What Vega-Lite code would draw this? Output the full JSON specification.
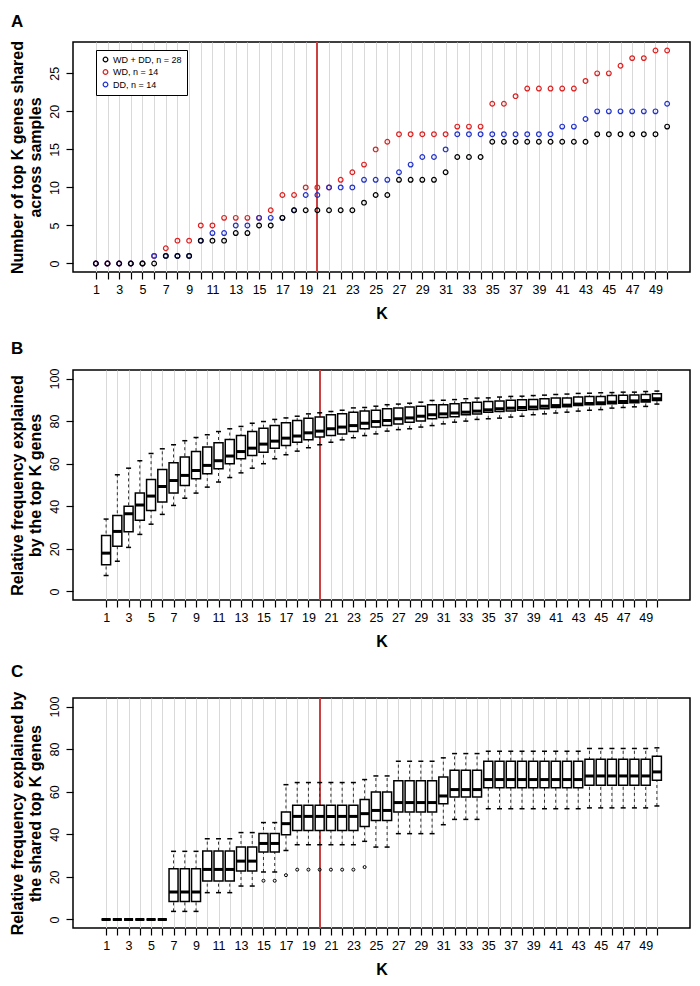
{
  "$schema": "https://vega.github.io/schema/vega-lite/v6.json",
  "background": "white",
  "padding": {"left": 8, "top": 11, "right": 5, "bottom": 5},
  "bounds": "flush",
  "spacing": 98,
  "datasets": {
    "A": [
      {"K":1,"WD":0,"DD":0,"All":0},{"K":2,"WD":0,"DD":0,"All":0},{"K":3,"WD":0,"DD":0,"All":0},{"K":4,"WD":0,"DD":0,"All":0},{"K":5,"WD":0,"DD":0,"All":0},
      {"K":6,"WD":1,"DD":1,"All":0},{"K":7,"WD":2,"DD":1,"All":1},{"K":8,"WD":3,"DD":1,"All":1},{"K":9,"WD":3,"DD":1,"All":1},{"K":10,"WD":5,"DD":3,"All":3},
      {"K":11,"WD":5,"DD":4,"All":3},{"K":12,"WD":6,"DD":4,"All":3},{"K":13,"WD":6,"DD":5,"All":4},{"K":14,"WD":6,"DD":5,"All":4},{"K":15,"WD":6,"DD":6,"All":5},
      {"K":16,"WD":7,"DD":6,"All":5},{"K":17,"WD":9,"DD":6,"All":6},{"K":18,"WD":9,"DD":7,"All":7},{"K":19,"WD":10,"DD":9,"All":7},{"K":20,"WD":10,"DD":9,"All":7},
      {"K":21,"WD":10,"DD":10,"All":7},{"K":22,"WD":11,"DD":10,"All":7},{"K":23,"WD":12,"DD":10,"All":7},{"K":24,"WD":13,"DD":11,"All":8},{"K":25,"WD":15,"DD":11,"All":9},
      {"K":26,"WD":16,"DD":11,"All":9},{"K":27,"WD":17,"DD":12,"All":11},{"K":28,"WD":17,"DD":13,"All":11},{"K":29,"WD":17,"DD":14,"All":11},{"K":30,"WD":17,"DD":14,"All":11},
      {"K":31,"WD":17,"DD":15,"All":12},{"K":32,"WD":18,"DD":17,"All":14},{"K":33,"WD":18,"DD":17,"All":14},{"K":34,"WD":18,"DD":17,"All":14},{"K":35,"WD":21,"DD":17,"All":16},
      {"K":36,"WD":21,"DD":17,"All":16},{"K":37,"WD":22,"DD":17,"All":16},{"K":38,"WD":23,"DD":17,"All":16},{"K":39,"WD":23,"DD":17,"All":16},{"K":40,"WD":23,"DD":17,"All":16},
      {"K":41,"WD":23,"DD":18,"All":16},{"K":42,"WD":23,"DD":18,"All":16},{"K":43,"WD":24,"DD":19,"All":16},{"K":44,"WD":25,"DD":20,"All":17},{"K":45,"WD":25,"DD":20,"All":17},
      {"K":46,"WD":26,"DD":20,"All":17},{"K":47,"WD":27,"DD":20,"All":17},{"K":48,"WD":27,"DD":20,"All":17},{"K":49,"WD":28,"DD":20,"All":17},{"K":50,"WD":28,"DD":21,"All":18}
    ],
    "B": [
      {"K":1,"lo":7.5,"q1":12.5,"med":18.0,"q3":26.3,"hi":34.0},
      {"K":2,"lo":14.2,"q1":21.2,"med":28.2,"q3":35.7,"hi":54.8},
      {"K":3,"lo":20.7,"q1":28.0,"med":36.5,"q3":40.0,"hi":57.9},
      {"K":4,"lo":26.8,"q1":33.4,"med":40.6,"q3":46.2,"hi":61.4},
      {"K":5,"lo":31.6,"q1":38.0,"med":44.8,"q3":52.6,"hi":64.8},
      {"K":6,"lo":36.2,"q1":42.0,"med":49.3,"q3":57.3,"hi":67.0},
      {"K":7,"lo":40.4,"q1":46.2,"med":52.1,"q3":60.4,"hi":68.9},
      {"K":8,"lo":43.8,"q1":49.8,"med":54.5,"q3":63.2,"hi":70.8},
      {"K":9,"lo":46.2,"q1":52.9,"med":56.8,"q3":65.7,"hi":72.3},
      {"K":10,"lo":49.0,"q1":55.3,"med":59.2,"q3":67.8,"hi":73.6},
      {"K":11,"lo":51.4,"q1":57.6,"med":61.4,"q3":69.8,"hi":75.1},
      {"K":12,"lo":53.5,"q1":60.0,"med":63.6,"q3":71.4,"hi":76.4},
      {"K":13,"lo":55.7,"q1":62.3,"med":65.7,"q3":73.2,"hi":77.5},
      {"K":14,"lo":57.9,"q1":63.8,"med":67.3,"q3":75.1,"hi":79.0},
      {"K":15,"lo":60.0,"q1":65.4,"med":69.2,"q3":76.7,"hi":79.8},
      {"K":16,"lo":62.3,"q1":67.3,"med":70.6,"q3":77.9,"hi":80.8},
      {"K":17,"lo":64.2,"q1":68.5,"med":72.0,"q3":79.2,"hi":81.5},
      {"K":18,"lo":65.9,"q1":70.1,"med":73.0,"q3":80.3,"hi":82.3},
      {"K":19,"lo":67.5,"q1":71.2,"med":74.5,"q3":81.4,"hi":83.4},
      {"K":20,"lo":68.9,"q1":72.5,"med":75.3,"q3":81.9,"hi":83.9},
      {"K":21,"lo":70.1,"q1":73.2,"med":76.4,"q3":83.0,"hi":84.5},
      {"K":22,"lo":71.2,"q1":74.0,"med":77.2,"q3":83.4,"hi":85.1},
      {"K":23,"lo":72.2,"q1":75.1,"med":77.9,"q3":84.2,"hi":86.2},
      {"K":24,"lo":73.2,"q1":76.4,"med":79.0,"q3":84.7,"hi":86.4},
      {"K":25,"lo":74.0,"q1":77.2,"med":79.8,"q3":85.1,"hi":87.0},
      {"K":26,"lo":75.3,"q1":77.9,"med":80.3,"q3":85.8,"hi":87.7},
      {"K":27,"lo":76.0,"q1":78.7,"med":81.1,"q3":86.1,"hi":88.0},
      {"K":28,"lo":76.4,"q1":79.5,"med":81.5,"q3":86.6,"hi":88.4},
      {"K":29,"lo":77.2,"q1":80.1,"med":82.3,"q3":87.0,"hi":88.9},
      {"K":30,"lo":77.9,"q1":81.1,"med":83.0,"q3":87.7,"hi":89.7},
      {"K":31,"lo":78.7,"q1":81.7,"med":83.4,"q3":87.7,"hi":89.8},
      {"K":32,"lo":79.5,"q1":82.0,"med":83.8,"q3":88.1,"hi":90.1},
      {"K":33,"lo":80.0,"q1":83.0,"med":84.2,"q3":88.6,"hi":90.5},
      {"K":34,"lo":80.8,"q1":83.3,"med":84.7,"q3":88.9,"hi":90.8},
      {"K":35,"lo":81.1,"q1":84.2,"med":85.3,"q3":89.2,"hi":90.9},
      {"K":36,"lo":81.4,"q1":84.5,"med":85.8,"q3":89.5,"hi":91.3},
      {"K":37,"lo":81.9,"q1":84.8,"med":86.1,"q3":89.8,"hi":91.6},
      {"K":38,"lo":82.3,"q1":85.1,"med":86.4,"q3":90.0,"hi":91.7},
      {"K":39,"lo":83.0,"q1":85.4,"med":86.6,"q3":90.1,"hi":92.0},
      {"K":40,"lo":83.4,"q1":85.8,"med":87.0,"q3":90.5,"hi":92.2},
      {"K":41,"lo":83.8,"q1":86.4,"med":87.3,"q3":90.8,"hi":92.5},
      {"K":42,"lo":84.2,"q1":86.7,"med":87.5,"q3":90.8,"hi":92.7},
      {"K":43,"lo":84.7,"q1":87.3,"med":88.0,"q3":91.3,"hi":93.0},
      {"K":44,"lo":85.1,"q1":87.7,"med":88.3,"q3":91.6,"hi":93.1},
      {"K":45,"lo":85.4,"q1":87.8,"med":88.6,"q3":91.6,"hi":93.3},
      {"K":46,"lo":86.1,"q1":88.1,"med":88.9,"q3":92.0,"hi":93.4},
      {"K":47,"lo":86.4,"q1":88.4,"med":89.2,"q3":92.2,"hi":93.6},
      {"K":48,"lo":86.7,"q1":88.6,"med":89.5,"q3":92.3,"hi":93.6},
      {"K":49,"lo":86.9,"q1":89.0,"med":89.7,"q3":92.5,"hi":93.9},
      {"K":50,"lo":88.0,"q1":89.7,"med":90.5,"q3":92.8,"hi":94.1}
    ],
    "C": [
      {"K":1,"lo":0,"q1":0,"med":0,"q3":0,"hi":0},
      {"K":2,"lo":0,"q1":0,"med":0,"q3":0,"hi":0},
      {"K":3,"lo":0,"q1":0,"med":0,"q3":0,"hi":0},
      {"K":4,"lo":0,"q1":0,"med":0,"q3":0,"hi":0},
      {"K":5,"lo":0,"q1":0,"med":0,"q3":0,"hi":0},
      {"K":6,"lo":0,"q1":0,"med":0,"q3":0,"hi":0},
      {"K":7,"lo":3.8,"q1":8.5,"med":12.9,"q3":23.8,"hi":32.0},
      {"K":8,"lo":3.8,"q1":8.5,"med":12.9,"q3":23.8,"hi":32.0},
      {"K":9,"lo":3.8,"q1":8.5,"med":12.9,"q3":23.8,"hi":32.0},
      {"K":10,"lo":12.6,"q1":18.1,"med":23.5,"q3":32.1,"hi":37.9},
      {"K":11,"lo":12.6,"q1":18.1,"med":23.5,"q3":32.1,"hi":37.9},
      {"K":12,"lo":12.6,"q1":18.1,"med":23.5,"q3":32.1,"hi":37.9},
      {"K":13,"lo":15.7,"q1":22.8,"med":27.4,"q3":34.0,"hi":40.8},
      {"K":14,"lo":15.7,"q1":22.8,"med":27.4,"q3":34.0,"hi":40.8},
      {"K":15,"lo":22.3,"q1":31.7,"med":35.7,"q3":40.4,"hi":45.5},
      {"K":16,"lo":22.3,"q1":31.7,"med":35.7,"q3":40.4,"hi":45.5},
      {"K":17,"lo":32.4,"q1":39.8,"med":45.0,"q3":50.5,"hi":63.3},
      {"K":18,"lo":35.1,"q1":41.8,"med":48.4,"q3":53.6,"hi":64.3},
      {"K":19,"lo":35.1,"q1":41.8,"med":48.4,"q3":53.6,"hi":64.3},
      {"K":20,"lo":35.1,"q1":41.8,"med":48.4,"q3":53.6,"hi":64.3},
      {"K":21,"lo":35.1,"q1":41.8,"med":48.4,"q3":53.6,"hi":64.3},
      {"K":22,"lo":35.1,"q1":41.8,"med":48.4,"q3":53.6,"hi":64.3},
      {"K":23,"lo":35.1,"q1":41.8,"med":48.4,"q3":53.6,"hi":64.3},
      {"K":24,"lo":36.7,"q1":43.7,"med":49.7,"q3":56.3,"hi":65.7},
      {"K":25,"lo":34.0,"q1":46.5,"med":51.2,"q3":59.9,"hi":67.4},
      {"K":26,"lo":34.0,"q1":46.5,"med":51.2,"q3":59.9,"hi":67.4},
      {"K":27,"lo":40.3,"q1":50.5,"med":54.9,"q3":65.1,"hi":74.3},
      {"K":28,"lo":40.3,"q1":50.5,"med":54.9,"q3":65.1,"hi":74.3},
      {"K":29,"lo":40.3,"q1":50.5,"med":54.9,"q3":65.1,"hi":74.3},
      {"K":30,"lo":40.3,"q1":50.5,"med":54.9,"q3":65.1,"hi":74.3},
      {"K":31,"lo":44.5,"q1":54.4,"med":58.0,"q3":66.9,"hi":75.9},
      {"K":32,"lo":47.0,"q1":57.5,"med":61.0,"q3":70.1,"hi":77.9},
      {"K":33,"lo":47.0,"q1":57.5,"med":61.0,"q3":70.1,"hi":77.9},
      {"K":34,"lo":47.0,"q1":57.5,"med":61.0,"q3":70.1,"hi":77.9},
      {"K":35,"lo":52.0,"q1":61.9,"med":65.7,"q3":74.3,"hi":79.0},
      {"K":36,"lo":52.0,"q1":61.9,"med":65.7,"q3":74.3,"hi":79.0},
      {"K":37,"lo":52.0,"q1":61.9,"med":65.7,"q3":74.3,"hi":79.0},
      {"K":38,"lo":52.0,"q1":61.9,"med":65.7,"q3":74.3,"hi":79.0},
      {"K":39,"lo":52.0,"q1":61.9,"med":65.7,"q3":74.3,"hi":79.0},
      {"K":40,"lo":52.0,"q1":61.9,"med":65.7,"q3":74.3,"hi":79.0},
      {"K":41,"lo":52.0,"q1":61.9,"med":65.7,"q3":74.3,"hi":79.0},
      {"K":42,"lo":52.0,"q1":61.9,"med":65.7,"q3":74.3,"hi":79.0},
      {"K":43,"lo":52.0,"q1":61.9,"med":65.7,"q3":74.3,"hi":79.0},
      {"K":44,"lo":52.4,"q1":63.0,"med":67.4,"q3":75.2,"hi":80.3},
      {"K":45,"lo":52.4,"q1":63.0,"med":67.4,"q3":75.2,"hi":80.3},
      {"K":46,"lo":52.4,"q1":63.0,"med":67.4,"q3":75.2,"hi":80.3},
      {"K":47,"lo":52.4,"q1":63.0,"med":67.4,"q3":75.2,"hi":80.3},
      {"K":48,"lo":52.4,"q1":63.0,"med":67.4,"q3":75.2,"hi":80.3},
      {"K":49,"lo":52.4,"q1":63.0,"med":67.4,"q3":75.2,"hi":80.3},
      {"K":50,"lo":53.3,"q1":65.4,"med":69.3,"q3":76.6,"hi":80.6}
    ],
    "Cout": [
      {"K":15,"v":18.2},{"K":16,"v":18.2},{"K":17,"v":20.8},
      {"K":18,"v":23.4},{"K":19,"v":23.4},{"K":20,"v":23.4},{"K":21,"v":23.4},{"K":22,"v":23.4},{"K":23,"v":23.4},
      {"K":24,"v":24.6}
    ]
  },
  "vconcat": [
    {
      "width": 617, "height": 230,
      "title": {"text": "A"},
      "data": {"name": "A"},
      "layer": [
        {
          "mark": {"type": "rule", "color": "#cc4040", "strokeWidth": 1},
          "encoding": {
            "x": {"datum": 20, "type": "quantitative", "title": "K", "scale": {"domain": [-0.96, 51.96], "nice": false, "zero": false},
                  "axis": {"values": [1,2,3,4,5,6,7,8,9,10,11,12,13,14,15,16,17,18,19,20,21,22,23,24,25,26,27,28,29,30,31,32,33,34,35,36,37,38,39,40,41,42,43,44,45,46,47,48,49,50], "labelExpr": "datum.value % 2 == 1 ? datum.label : ''", "grid": true}}
          }
        },
        {
          "transform": [{"fold": ["WD", "DD", "All"], "as": ["grp", "n"]}],
          "mark": {"type": "point", "shape": "circle", "filled": false, "size": 22, "strokeWidth": 1.2, "opacity": 1},
          "encoding": {
            "x": {"field": "K", "type": "quantitative", "title": "K", "scale": {"domain": [-0.96, 51.96], "nice": false, "zero": false},
                  "axis": {"values": [1,2,3,4,5,6,7,8,9,10,11,12,13,14,15,16,17,18,19,20,21,22,23,24,25,26,27,28,29,30,31,32,33,34,35,36,37,38,39,40,41,42,43,44,45,46,47,48,49,50], "labelExpr": "datum.value % 2 == 1 ? datum.label : ''", "grid": true}},
            "y": {"field": "n", "type": "quantitative", "title": ["Number of top K genes shared", "across samples"], "scale": {"domain": [-1.12, 29.12], "nice": false, "zero": false},
                  "axis": {"values": [0, 5, 10, 15, 20, 25], "labelAngle": 270}},
            "color": {"field": "grp", "type": "nominal", "scale": {"domain": ["All", "WD", "DD"], "range": ["#000000", "#dd2222", "#2233cc"]},
                      "legend": {"title": null, "orient": "none", "legendX": 23, "legendY": 8, "labelExpr": "datum.label == 'All' ? 'WD + DD, n = 28' : datum.label + ', n = 14'", "strokeColor": "black", "fillColor": "white", "padding": 5, "labelFontSize": 9, "labelColor": "black", "symbolSize": 22, "symbolStrokeWidth": 1.2, "symbolType": "circle", "rowPadding": 1.5, "labelOffset": 3}}
          }
        }
      ]
    },
    {
      "width": 617, "height": 230,
      "title": {"text": "B"},
      "data": {"name": "B"},
      "encoding": {
        "x": {"field": "K", "type": "quantitative", "title": "K", "scale": {"domain": [-1.5, 52.5], "nice": false, "zero": false},
              "axis": {"values": [1,2,3,4,5,6,7,8,9,10,11,12,13,14,15,16,17,18,19,20,21,22,23,24,25,26,27,28,29,30,31,32,33,34,35,36,37,38,39,40,41,42,43,44,45,46,47,48,49,50], "labelExpr": "datum.value % 2 == 1 ? datum.label : ''", "grid": true}}
      },
      "layer": [
        {"mark": {"type": "rule", "color": "#cc4040", "strokeWidth": 1},
         "encoding": {"x": {"datum": 20, "type": "quantitative", "title": "K"}}},
        {"mark": {"type": "rule", "color": "#333333", "strokeWidth": 1, "strokeDash": [3, 3]},
         "encoding": {"y": {"field": "lo", "type": "quantitative", "title": ["Relative frequency explained", "by the top K genes"], "scale": {"domain": [-4, 104], "nice": false, "zero": false}, "axis": {"values": [0, 20, 40, 60, 80, 100], "labelAngle": 270}}, "y2": {"field": "hi"}}},
        {"mark": {"type": "tick", "orient": "horizontal", "size": 5, "thickness": 1.5, "color": "black", "opacity": 1},
         "encoding": {"y": {"field": "lo", "type": "quantitative", "title": ["Relative frequency explained", "by the top K genes"]}}},
        {"mark": {"type": "tick", "orient": "horizontal", "size": 5, "thickness": 1.5, "color": "black", "opacity": 1},
         "encoding": {"y": {"field": "hi", "type": "quantitative", "title": ["Relative frequency explained", "by the top K genes"]}}},
        {"mark": {"type": "bar", "width": 9, "fill": "white", "stroke": "black", "strokeWidth": 1.5},
         "encoding": {"y": {"field": "q1", "type": "quantitative", "title": ["Relative frequency explained", "by the top K genes"]}, "y2": {"field": "q3"}}},
        {"mark": {"type": "tick", "orient": "horizontal", "size": 9, "thickness": 3, "color": "black", "opacity": 1},
         "encoding": {"y": {"field": "med", "type": "quantitative", "title": ["Relative frequency explained", "by the top K genes"]}}}
      ]
    },
    {
      "width": 617, "height": 230,
      "title": {"text": "C"},
      "data": {"name": "C"},
      "encoding": {
        "x": {"field": "K", "type": "quantitative", "title": "K", "scale": {"domain": [-1.5, 52.5], "nice": false, "zero": false},
              "axis": {"values": [1,2,3,4,5,6,7,8,9,10,11,12,13,14,15,16,17,18,19,20,21,22,23,24,25,26,27,28,29,30,31,32,33,34,35,36,37,38,39,40,41,42,43,44,45,46,47,48,49,50], "labelExpr": "datum.value % 2 == 1 ? datum.label : ''", "grid": true}}
      },
      "layer": [
        {"mark": {"type": "rule", "color": "#cc4040", "strokeWidth": 1},
         "encoding": {"x": {"datum": 20, "type": "quantitative", "title": "K"}}},
        {"mark": {"type": "rule", "color": "#333333", "strokeWidth": 1, "strokeDash": [3, 3]},
         "encoding": {"y": {"field": "lo", "type": "quantitative", "title": ["Relative frequency explained by", "the shared top K genes"], "scale": {"domain": [-4, 104], "nice": false, "zero": false}, "axis": {"values": [0, 20, 40, 60, 80, 100], "labelAngle": 270}}, "y2": {"field": "hi"}}},
        {"mark": {"type": "tick", "orient": "horizontal", "size": 5, "thickness": 1.5, "color": "black", "opacity": 1},
         "encoding": {"y": {"field": "lo", "type": "quantitative", "title": ["Relative frequency explained by", "the shared top K genes"]}}},
        {"mark": {"type": "tick", "orient": "horizontal", "size": 5, "thickness": 1.5, "color": "black", "opacity": 1},
         "encoding": {"y": {"field": "hi", "type": "quantitative", "title": ["Relative frequency explained by", "the shared top K genes"]}}},
        {"mark": {"type": "bar", "width": 9, "fill": "white", "stroke": "black", "strokeWidth": 1.5},
         "encoding": {"y": {"field": "q1", "type": "quantitative", "title": ["Relative frequency explained by", "the shared top K genes"]}, "y2": {"field": "q3"}}},
        {"mark": {"type": "tick", "orient": "horizontal", "size": 9, "thickness": 3, "color": "black", "opacity": 1},
         "encoding": {"y": {"field": "med", "type": "quantitative", "title": ["Relative frequency explained by", "the shared top K genes"]}}},
        {"data": {"name": "Cout"},
         "mark": {"type": "point", "shape": "circle", "filled": false, "size": 9, "color": "black", "strokeWidth": 1, "opacity": 1},
         "encoding": {"x": {"field": "K", "type": "quantitative", "title": "K"}, "y": {"field": "v", "type": "quantitative", "title": ["Relative frequency explained by", "the shared top K genes"]}}}
      ]
    }
  ],
  "config": {
    "font": "Liberation Sans",
    "view": {"stroke": "black", "strokeWidth": 1.5},
    "title": {"anchor": "start", "frame": "group", "dx": -62, "fontSize": 17, "fontWeight": "bold", "color": "black", "offset": 10},
    "axis": {"domain": false, "tickColor": "black", "tickSize": 7, "tickWidth": 1.2, "labelFontSize": 12.5, "labelColor": "black", "labelFont": "Liberation Sans", "titleFont": "Liberation Sans", "titleFontSize": 16, "titleFontWeight": "bold", "titleColor": "black", "labelOverlap": false, "labelFlush": false, "labelPadding": 4, "titleLineHeight": 18, "grid": false, "gridColor": "#d9d9d9", "gridWidth": 1},
    "axisX": {"titlePadding": 10},
    "axisY": {"titlePadding": 5, "labelPadding": 5}
  }
}
